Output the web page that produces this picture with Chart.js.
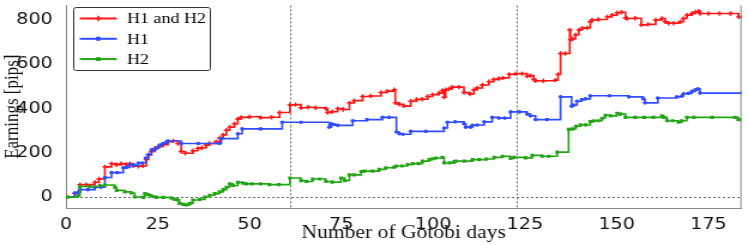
<!DOCTYPE html>
<html>
<head>
<meta charset="utf-8">
<script src="https://cdn.jsdelivr.net/npm/chart.js@4.4.1/dist/chart.umd.min.js"></script>
<style>
html, body { margin: 0; padding: 0; background: #fff; overflow: hidden; }
/* the figure looks stretched sideways, so draw narrower and scale */
#wrap { width: 624px; height: 245px; transform: scaleX(1.1987); transform-origin: 0 0; }
</style>
</head>
<body>
<div id="wrap"><canvas id="chart"></canvas></div>
<script>
const seriesNames = ['H1 and H2', 'H1', 'H2'];

const redDays = [
  0, 2.4, 3.5, 3.8, 5.5, 7.9, 9, 10.6, 12.4, 13.8,
  15, 16.5, 17.4, 18.3, 19.7, 21, 21.9, 22.5, 23.3, 24.2,
  25.1, 26.4, 27.8, 29.2, 30.5, 31.4, 32.5, 34.6, 35.9, 37,
  38.2, 39.1, 40.9, 41.9, 42.8, 43.7, 44.6, 45.9, 46.8, 47.7,
  50, 53, 56, 58.2, 61, 62.5, 64, 66, 68, 70.8,
  71.3, 72.5, 74, 75.5, 77.2, 78.5, 80.8, 83, 85.8, 87.5,
  89.4, 89.7, 90.8, 92, 93.9, 95.5, 97, 98.5, 99.8, 101.6,
  102.5, 103, 103.4, 104.3, 105.2, 107, 108.4, 110, 111.1, 112,
  113.4, 115.2, 116.5, 117.9, 119, 120.7, 122.5, 124.2, 125.6, 126.5,
  127.4, 127.9, 130, 133.3, 134, 134.7, 136, 137.2, 137.4, 138,
  138.8, 139.7, 140.6, 142, 142.8, 143.3, 145, 147.4, 148.7, 150.1,
  151.3, 152.4, 152.8, 155, 156.7, 158.5, 160.6, 162.3, 163.2, 164.1,
  165.5, 167.3, 168.2, 169.1, 170.5, 171.4, 172.3, 172.7, 175, 178,
  181, 183.2, 184
];
const redVals = [
  0, 15, 20, 55, 55, 65, 80, 135, 150, 145,
  150, 145, 150, 140, 138, 140, 169, 190, 205, 218,
  227, 236, 249, 253, 241, 205, 197, 208, 219, 222,
  234, 241, 249, 266, 280, 301, 315, 330, 352, 359,
  362, 358, 360, 381, 415, 417, 403, 405, 403, 399,
  381, 385, 399, 395, 425, 435, 454, 456, 472, 478,
  484, 425, 418, 410, 432, 440, 441, 454, 462, 469,
  481, 450, 484, 488, 496, 496, 472, 465, 484, 492,
  506, 521, 531, 535, 538, 554, 557, 557, 545, 548,
  531, 525, 525, 528, 554, 648, 648, 755, 711, 715,
  733, 755, 763, 765, 792, 800, 802, 814, 822, 833,
  835, 810, 807, 808, 778, 780, 800, 807, 792, 785,
  785, 792, 807, 822, 829, 836, 840, 829, 829, 829,
  829, 814, 814
];

const blueDays = [
  0, 2.4, 3.5, 3.8, 6, 7.9, 9.5, 10.6, 12.4, 14,
  15.6, 16.5, 17.4, 18.6, 19.7, 20.8, 21.7, 22.4, 23.3, 24.6,
  25.5, 26.4, 27.4, 27.8, 31.4, 36, 41.8, 42.3, 46.8, 48,
  53, 58.9, 64, 71.7, 72.3, 73, 74, 78.1, 82, 86.2,
  88, 90, 90.8, 91.8, 93.9, 98, 103, 103.9, 106, 108.4,
  108.9, 110.2, 110.7, 112, 113.9, 116.1, 117.9, 119.5, 121.1, 123.5,
  125.6, 126.5, 127.9, 131, 134.7, 137.7, 138.3, 139.2, 140.5, 141.5,
  142.8, 148, 153.3, 157.2, 157.7, 161.2, 166.4, 167.8, 168.2, 169.5,
  170.5, 171.4, 172.1, 172.7, 184
];
const blueVals = [
  0, 17, 22, 32, 32, 43, 43, 87, 109, 109,
  131, 133, 146, 142, 153, 153, 175, 190, 212, 222,
  234, 241, 249, 252, 241, 241, 241, 263, 285, 307,
  307, 337, 337, 315, 330, 327, 323, 344, 349, 359,
  359, 293, 285, 283, 296, 296, 311, 337, 339, 330,
  315, 315, 323, 325, 339, 359, 356, 356, 384, 384,
  374, 366, 349, 349, 452, 410, 415, 432, 440, 443,
  457, 457, 452, 443, 425, 447, 452, 457, 466, 468,
  477, 484, 488, 469, 469
];

const greenDays = [
  0, 0.5, 3.3, 3.8, 6.5, 9.2, 10.6, 13.3, 13.8, 16,
  17.8, 18.7, 21, 21.5, 22.4, 23.3, 24.6, 26.5, 28.7, 29.6,
  30.5, 30.9, 31.9, 32.8, 33.7, 34.6, 36.4, 37.8, 39.1, 40.5,
  41.8, 42.8, 43.7, 44.6, 45.5, 46.8, 48.2, 49.1, 50.6, 53,
  55.4, 58, 61, 64, 65.5, 67.2, 69, 70.8, 72.5, 74.9,
  75.9, 77.2, 78.5, 80.4, 81.3, 83.5, 85.3, 87.1, 89.4, 89.9,
  91.5, 93, 94.4, 96, 97.1, 98.9, 99.8, 100.7, 102.5, 103,
  104.5, 105.7, 106.2, 108.5, 110.7, 112.5, 114.5, 116.6, 118.9, 121.1,
  122, 125.2, 127, 129.7, 131.5, 133.8, 136.9, 138, 138.9, 140.1,
  141.5, 142.8, 143.7, 145, 146, 146.9, 148.3, 150.1, 151, 152.4,
  155, 157.5, 160, 162.3, 162.8, 163.7, 165.2, 166.8, 167.7, 169.1,
  171, 176, 182.2, 183.1, 184
];
const greenVals = [
  0, -2, 5, 46, 46, 51, 53, 43, 29, 22,
  17, -1, -3, 14, 9, 2, -3, -3, -7, -12,
  -15, -30, -35, -37, -30, -15, -12, -1, 7, 14,
  22, 32, 43, 58, 51, 65, 61, 58, 58, 58,
  55, 55, 85, 73, 69, 80, 80, 69, 66, 85,
  73, 99, 99, 114, 116, 116, 124, 131, 134, 139,
  139, 146, 150, 150, 161, 168, 172, 175, 179, 153,
  153, 158, 161, 161, 168, 168, 171, 178, 183, 173,
  178, 176, 187, 183, 183, 202, 305, 307, 319, 325,
  325, 340, 344, 344, 355, 369, 366, 378, 374, 359,
  359, 359, 359, 366, 359, 344, 344, 337, 344, 359,
  359, 359, 359, 349, 349
];

const xTicks = [0, 25, 50, 75, 100, 125, 150, 175];
const yTicks = [0, 200, 400, 600, 800];
const refDays = [60.9, 122.7];

const toPoints = (days, vals) => days.map((d, i) => ({ x: d, y: vals[i] }));

// dashed reference lines + right frame line
const refLines = {
  id: 'refLines',
  beforeDatasetsDraw(chart) {
    const { ctx, chartArea: a, scales: { x, y } } = chart;
    ctx.save();
    ctx.strokeStyle = '#6a6a6a';
    ctx.lineWidth = 1;
    ctx.setLineDash([2, 2]);
    ctx.beginPath();
    refDays.forEach(d => {
      const px = Math.round(x.getPixelForValue(d)) + 0.5;
      ctx.moveTo(px, a.top);
      ctx.lineTo(px, a.bottom);
    });
    const py = Math.round(y.getPixelForValue(0)) + 0.5;
    ctx.moveTo(a.left, py);
    ctx.lineTo(a.right, py);
    ctx.stroke();
    ctx.restore();
  },
  afterDraw(chart) {
    const { ctx, chartArea: a } = chart;
    ctx.save();
    ctx.strokeStyle = '#888';
    ctx.lineWidth = 1;
    ctx.beginPath();
    ctx.moveTo(a.right - 0.5, a.top);
    ctx.lineTo(a.right - 0.5, a.bottom);
    ctx.stroke();
    ctx.restore();
  }
};

// matplotlib style legend box: line with marker, then label
const boxLegend = {
  id: 'boxLegend',
  afterDraw(chart) {
    const ctx = chart.ctx;
    const a = chart.chartArea;
    const x0 = a.left + 6.5, y0 = 7.5, w = 114, h = 63;
    ctx.save();
    ctx.fillStyle = '#fff';
    ctx.strokeStyle = '#333';
    ctx.lineWidth = 1;
    ctx.beginPath();
    if (ctx.roundRect) ctx.roundRect(x0, y0, w, h, 2); else ctx.rect(x0, y0, w, h);
    ctx.fill();
    ctx.stroke();
    ctx.font = '15px "Liberation Serif"';
    ctx.textBaseline = 'middle';
    chart.data.datasets.forEach((ds, i) => {
      const cy = y0 + 11 + i * 20.3;
      ctx.strokeStyle = ds.borderColor;
      ctx.lineWidth = 2;
      ctx.beginPath();
      ctx.moveTo(x0 + 5, cy);
      ctx.lineTo(x0 + 36, cy);
      ctx.stroke();
      ctx.fillStyle = ds.borderColor;
      ctx.lineWidth = ds.pointBorderWidth;
      Chart.helpers.drawPoint(ctx, { pointStyle: ds.pointStyle, radius: ds.pointRadius + 0.5, borderWidth: ds.pointBorderWidth, rotation: 0 }, x0 + 20.5, cy);
      ctx.fillStyle = '#000';
      ctx.fillText(ds.label, x0 + 44.5, cy + 1);
    });
    ctx.restore();
  }
};

Chart.defaults.font.family = '"DejaVu Sans"';

new Chart(document.getElementById('chart'), {
  type: 'line',
  data: {
    datasets: [{
      label: seriesNames[0],
      data: toPoints(redDays, redVals),
      borderColor: '#ff1414',
      backgroundColor: '#ff1414',
      pointBackgroundColor: '#ff1414',
      pointStyle: 'cross',
      pointRadius: 2.2,
      pointBorderWidth: 1.4,
      borderWidth: 1.6,
      stepped: 'before',
      order: 3
    }, {
      label: seriesNames[1],
      data: toPoints(blueDays, blueVals),
      borderColor: '#2f4cff',
      backgroundColor: '#2f4cff',
      pointBackgroundColor: '#2f4cff',
      pointStyle: 'circle',
      pointRadius: 1.8,
      pointBorderWidth: 0,
      borderWidth: 1.6,
      stepped: 'before',
      order: 2
    }, {
      label: seriesNames[2],
      data: toPoints(greenDays, greenVals),
      borderColor: '#22a414',
      backgroundColor: '#22a414',
      pointBackgroundColor: '#22a414',
      pointStyle: 'rect',
      pointRadius: 2.2,
      pointBorderWidth: 0,
      borderWidth: 1.6,
      stepped: 'before',
      order: 1
    }]
  },
  options: {
    responsive: true,
    maintainAspectRatio: false,
    animation: false,
    layout: { padding: { top: 0, right: 2.5, bottom: 0, left: 0 } },
    plugins: {
      legend: { display: false },
      tooltip: { enabled: false }
    },
    scales: {
      x: {
        type: 'linear',
        min: 0,
        max: 184,
        afterBuildTicks: s => { s.ticks = xTicks.map(v => ({ value: v })); },
        afterFit: s => { s.height = 37; s.paddingLeft = 0; s.paddingRight = 0; },
        grid: { display: false },
        border: { color: '#888', width: 1 },
        ticks: { font: { size: 16, lineHeight: 1 }, color: '#111', padding: 1, maxRotation: 0, autoSkip: false },
        title: {
          display: true,
          text: 'Number of Gotobi days',
          font: { family: '"Liberation Serif"', size: 18, lineHeight: 1 },
          color: '#111',
          padding: { top: 0, bottom: 2.5 }
        }
      },
      y: {
        min: -51,
        max: 866,
        afterBuildTicks: s => { s.ticks = yTicks.map(v => ({ value: v })); },
        afterFit: s => { s.width = 55; s.paddingTop = 0; s.paddingBottom = 0; },
        grid: { display: false },
        border: { color: '#888', width: 1 },
        ticks: { font: { size: 16 }, color: '#111', padding: 3 },
        title: {
          display: true,
          text: 'Earnings [pips]',
          font: { family: '"Liberation Serif"', size: 17 },
          color: '#111',
          padding: { top: 0, bottom: 0 }
        }
      }
    }
  },
  plugins: [refLines, boxLegend]
});
</script>
</body>
</html>
